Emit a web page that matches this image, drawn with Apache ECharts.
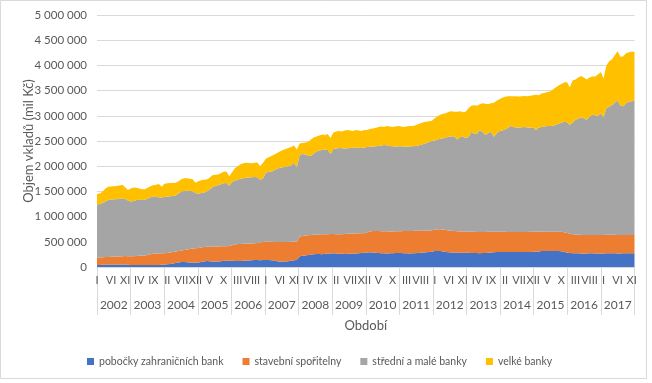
<!DOCTYPE html>
<html>
<head>
<meta charset="utf-8">
<script src="https://cdn.jsdelivr.net/npm/echarts@6/dist/echarts.min.js"></script>
<style>
html,body{margin:0;padding:0;background:#fff;}
#c{width:652px;height:383px;}
</style>
</head>
<body>
<div id="c"></div>
<script>
const years = ['2002','2003','2004','2005','2006','2007','2008','2009','2010','2011','2012','2013','2014','2015','2016','2017'];
const months = ['I','II','III','IV','V','VI','VII','VIII','IX','X','XI','XII'];
const seriesNames = ['pobočky zahraničních bank','stavební spořitelny','střední a malé banky','velké banky'];
const yTicks = [0,500000,1000000,1500000,2000000,2500000,3000000,3500000,4000000,4500000,5000000];

// pobočky zahraničních bank (mil Kč), monthly I/2002 – XII/2017
const pobocky = [
40000,42000,45000,48000,50000,52000,52000,50000,48000,50000,52000,45000,
40000,40000,38000,40000,40000,40000,42000,40000,40000,42000,42000,45000,
50000,55000,60000,70000,80000,90000,98000,100000,95000,90000,88000,85000,
90000,100000,110000,118000,115000,110000,105000,108000,115000,122000,126000,125000,
122000,120000,118000,120000,122000,125000,130000,135000,138000,140000,135000,138000,
140000,138000,135000,130000,115000,105000,108000,110000,115000,125000,135000,140000,
215000,225000,230000,240000,250000,255000,258000,260000,255000,265000,270000,268000,
272000,270000,265000,262000,260000,262000,265000,268000,270000,272000,278000,285000,
290000,292000,288000,285000,280000,275000,272000,270000,272000,275000,278000,280000,
278000,275000,272000,270000,272000,275000,280000,285000,290000,295000,300000,305000,
315000,318000,315000,310000,300000,295000,290000,288000,286000,285000,284000,283000,
282000,280000,278000,276000,275000,276000,278000,285000,290000,295000,298000,298000,
298000,298000,297000,296000,296000,297000,298000,299000,300000,300000,300000,302000,
305000,310000,315000,318000,318000,318000,317000,316000,315000,312000,300000,290000,
280000,275000,272000,271000,270000,270000,270000,271000,271000,270000,270000,270000,
270000,271000,272000,272000,271000,270000,270000,271000,272000,272000,272000,272000
];
// stavební spořitelny
const stavebni = [
145000,146000,147000,148000,150000,151000,153000,157000,162000,165000,166000,169000,
172000,174000,180000,182000,186000,190000,198000,215000,222000,224000,228000,227000,
225000,225000,230000,230000,230000,228000,227000,235000,250000,265000,277000,285000,
285000,285000,285000,282000,287000,294000,301000,300000,295000,290000,288000,291000,
308000,325000,337000,338000,338000,337000,335000,333000,332000,335000,350000,357000,
360000,364000,365000,368000,381000,390000,387000,387000,383000,375000,367000,365000,
385000,390000,395000,390000,385000,383000,382000,385000,393000,385000,382000,387000,
383000,380000,383000,388000,395000,398000,397000,396000,396000,396000,392000,387000,
400000,413000,424000,429000,432000,435000,436000,437000,434000,431000,429000,428000,
432000,437000,442000,445000,444000,442000,438000,434000,430000,427000,425000,425000,
425000,429000,435000,435000,435000,430000,428000,424000,422000,420000,421000,420000,
420000,420000,420000,419000,418000,418000,418000,413000,410000,405000,402000,402000,
402000,400000,399000,398000,397000,395000,395000,395000,395000,396000,397000,396000,
395000,392000,387000,383000,382000,382000,383000,384000,384000,385000,390000,385000,
380000,375000,373000,369000,368000,366000,365000,364000,364000,365000,366000,366000,
367000,367000,368000,368000,367000,367000,366000,365000,364000,364000,364000,364000
];
// střední a malé banky
const stredni = [
1055000,1062000,1078000,1104000,1130000,1137000,1140000,1138000,1145000,1150000,1132000,1106000,
1088000,1096000,1112000,1113000,1104000,1105000,1120000,1130000,1133000,1124000,1115000,1108000,
1115000,1120000,1115000,1110000,1110000,1142000,1175000,1175000,1170000,1155000,1140000,1100000,
1080000,1085000,1085000,1100000,1138000,1176000,1204000,1212000,1230000,1248000,1251000,1194000,
1260000,1265000,1275000,1292000,1300000,1308000,1310000,1312000,1315000,1305000,1245000,1265000,
1370000,1388000,1390000,1422000,1454000,1475000,1485000,1493000,1502000,1520000,1568000,1475000,
1620000,1625000,1605000,1580000,1565000,1612000,1650000,1665000,1672000,1680000,1668000,1585000,
1685000,1700000,1712000,1705000,1695000,1695000,1698000,1701000,1704000,1697000,1690000,1698000,
1690000,1680000,1678000,1681000,1688000,1700000,1712000,1708000,1694000,1689000,1683000,1687000,
1685000,1678000,1671000,1675000,1679000,1683000,1692000,1701000,1720000,1738000,1755000,1770000,
1770000,1783000,1795000,1810000,1835000,1860000,1877000,1878000,1822000,1875000,1880000,1857000,
1878000,1980000,1952000,1945000,2027000,1986000,1924000,1962000,1985000,1885000,1950000,2000000,
2010000,2032000,2064000,2106000,2087000,2078000,2077000,2081000,2085000,2074000,2068000,2077000,
2020000,2068000,2078000,2089000,2100000,2100000,2105000,2120000,2141000,2163000,2190000,2195000,
2160000,2210000,2275000,2300000,2332000,2314000,2285000,2345000,2385000,2375000,2364000,2414000,
2333000,2512000,2540000,2570000,2622000,2673000,2564000,2554000,2614000,2644000,2654000,2664000
];
// velké banky
const velke = [
210000,210000,230000,260000,260000,255000,255000,260000,260000,265000,230000,210000,
260000,265000,240000,225000,215000,210000,210000,215000,225000,240000,260000,210000,
260000,260000,260000,255000,250000,240000,240000,250000,245000,240000,235000,200000,
245000,250000,250000,235000,230000,240000,220000,215000,220000,230000,230000,190000,
190000,250000,270000,290000,300000,300000,290000,280000,285000,295000,270000,310000,
280000,290000,310000,310000,310000,320000,340000,350000,360000,360000,340000,350000,
230000,220000,240000,270000,330000,320000,300000,300000,310000,290000,320000,320000,
330000,340000,340000,335000,360000,365000,350000,335000,350000,345000,340000,350000,
340000,355000,360000,365000,380000,380000,360000,385000,390000,385000,400000,405000,
395000,390000,405000,410000,405000,410000,420000,430000,430000,420000,410000,400000,
440000,460000,475000,485000,480000,495000,495000,490000,550000,510000,485000,520000,
570000,520000,560000,560000,510000,570000,620000,570000,565000,675000,650000,630000,
650000,650000,630000,590000,610000,620000,615000,615000,615000,620000,635000,635000,
700000,640000,660000,660000,670000,680000,715000,740000,760000,770000,780000,800000,
740000,840000,800000,820000,820000,810000,800000,780000,760000,770000,820000,820000,
770000,850000,900000,910000,940000,970000,970000,990000,990000,980000,980000,970000
];

const categories = [];
years.forEach(y => months.forEach(m => categories.push(y + '-' + m)));

const FONT = 'Lato, "Liberation Sans", sans-serif';
const TXT = '#595959';
const colors = ['#4472C4','#ED7D31','#A5A5A5','#FFC000'];
const seriesData = [pobocky, stavebni, stredni, velke];

const chart = echarts.init(document.getElementById('c'), null, {renderer: 'canvas'});
chart.setOption({
  animation: false,
  textStyle: {fontFamily: FONT},
  color: colors,
  graphic: [{
    type: 'rect', silent: true,
    shape: {x: 0.5, y: 0.5, width: 646, height: 378},
    style: {fill: 'none', stroke: '#d9d9d9', lineWidth: 1}
  }],
  grid: {left: 97, right: 17.5, top: 15, bottom: 116, containLabel: false},
  legend: {
    left: 82, top: 351,
    icon: 'rect', itemWidth: 7, itemHeight: 7, itemGap: 19,
    textStyle: {fontFamily: FONT, fontSize: 10.5, color: TXT},
    data: seriesNames
  },
  xAxis: [{
    type: 'category',
    data: categories,
    boundaryGap: false,
    position: 'bottom',
    axisLine: {show: true, lineStyle: {color: '#d9d9d9', width: 1}},
    axisTick: {show: false},
    axisLabel: {
      interval: 4, margin: 8, fontSize: 11, color: TXT, fontFamily: FONT,
      formatter: v => v.split('-')[1]
    },
    splitLine: {show: false}
  }, {
    type: 'category',
    data: years,
    boundaryGap: true,
    position: 'bottom',
    offset: 0,
    axisLine: {show: false},
    axisTick: {show: true, interval: 0, length: 48, lineStyle: {color: '#d9d9d9', width: 1}},
    axisLabel: {interval: 0, margin: 32, fontSize: 12, color: TXT, fontFamily: FONT},
    splitLine: {show: false},
    name: 'Období',
    nameLocation: 'middle',
    nameGap: 52,
    nameMoveOverlap: false,
    nameTextStyle: {fontSize: 13, color: TXT, fontFamily: FONT}
  }],
  yAxis: {
    type: 'value',
    min: yTicks[0], max: yTicks[yTicks.length - 1], interval: 500000,
    axisLine: {show: false},
    axisTick: {show: false},
    splitLine: {lineStyle: {color: '#d9d9d9', width: 1}},
    axisLabel: {
      margin: 10, fontSize: 11.5, color: TXT, fontFamily: FONT,
      formatter: v => String(v).replace(/\B(?=(\d{3})+(?!\d))/g, '\u00a0')
    },
    name: 'Objem vkladů (mil Kč)',
    nameLocation: 'middle',
    nameGap: 62,
    nameMoveOverlap: false,
    nameTextStyle: {fontSize: 13, color: TXT, fontFamily: FONT}
  },
  series: seriesNames.map((name, i) => ({
    name: name,
    type: 'line',
    stack: 'total',
    xAxisIndex: 0,
    data: seriesData[i],
    symbol: 'none',
    showSymbol: false,
    lineStyle: {width: 0},
    areaStyle: {color: colors[i], opacity: 1},
    itemStyle: {color: colors[i]},
    emphasis: {disabled: true}
  }))
});
</script>
</body>
</html>
